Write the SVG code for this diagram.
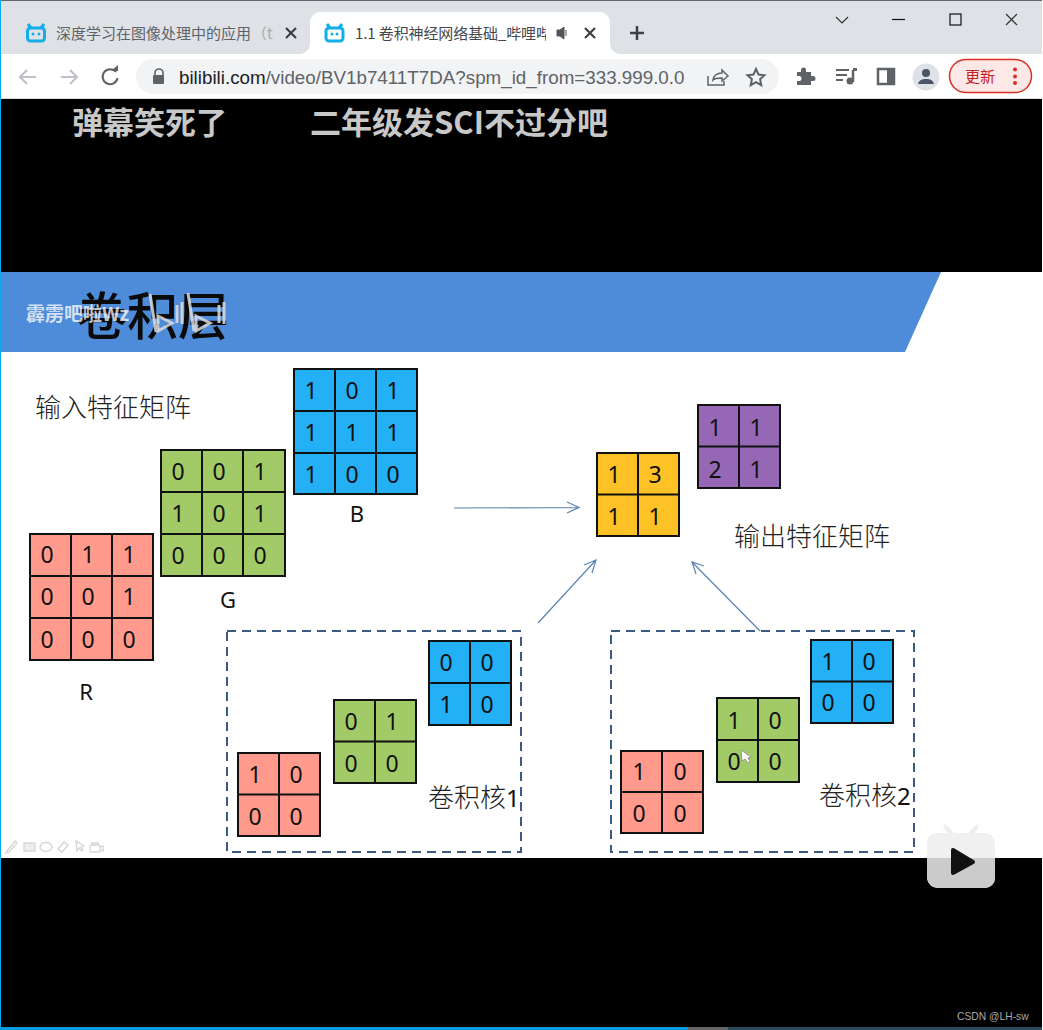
<svg xmlns="http://www.w3.org/2000/svg" width="1043" height="1030" viewBox="0 0 1043 1030">
<style>
.cjk{font-family:"Noto Sans CJK SC","Liberation Sans",sans-serif}
.ui{font-family:"Liberation Sans","Noto Sans CJK SC",sans-serif}
.d{font-family:"Noto Sans","DejaVu Sans",sans-serif;font-size:23px;fill:#111;text-anchor:middle}
.s{font-size:22px}
.lbl{font-family:"Noto Sans CJK SC",sans-serif;font-weight:300;font-size:26px;fill:#222}
.m{stroke:#111;stroke-width:2}
.r{fill:#ff9a8c}.g{fill:#a2cb68}.b{fill:#23b0f5}.y{fill:#fec226}.p{fill:#9567b5}
.ln{stroke:#111;stroke-width:2;fill:none}
.ar{stroke:#5b84b1;stroke-width:1.2;fill:none}
.dash{fill:none;stroke:#3d5a85;stroke-width:2;stroke-dasharray:9 6}
.tl{fill:none;stroke:#d4d4d4;stroke-width:1.300}
</style>
<rect width="1043" height="1030" fill="#000"/>
<g id="browser">
<rect x="0" y="0" width="1043" height="54" fill="#dee1e6"/>
<rect x="0" y="0" width="1043" height="1" fill="#666"/>
<path d="M300 54a10 10 0 0 0 10-10V22a10 10 0 0 1 10-10H600a10 10 0 0 1 10 10V44a10 10 0 0 0 10 10z" fill="#fff"/>
<rect x="0" y="54" width="1043" height="45" fill="#fff"/>
<rect x="0" y="98" width="1043" height="1" fill="#ddd"/>
<rect x="136" y="59" width="643" height="35" rx="17.500" fill="#f1f3f4"/>
<g fill="none" stroke="#12aee8" stroke-width="3">
<rect x="27.500" y="28" width="17" height="13" rx="3"/><path d="M31 28l-3-4M41 28l3-4"/>
<rect x="326" y="28" width="17" height="13" rx="3"/><path d="M330 28l-3-4M339 28l3-4"/>
</g>
<g fill="#12aee8"><circle cx="33" cy="34" r="1.500"/><circle cx="39" cy="34" r="1.500"/><circle cx="332" cy="34" r="1.500"/><circle cx="337" cy="34" r="1.500"/></g>
<text x="56" y="39" class="cjk" font-size="15" fill="#5f6368">深度学习在图像处理中的应用</text>
<text x="252" y="39" class="cjk" font-size="15" fill="#aaa">（t</text>
<text x="355" y="39" class="cjk" font-size="15" fill="#45494e" textLength="196">1.1 卷积神经网络基础_哔哩哔</text>
<rect x="546" y="20" width="14" height="26" fill="#fff"/>
<path d="M286 28l10 10M296 28l-10 10M585 28l10 10M595 28l-10 10" stroke="#3c4043" stroke-width="2.200" fill="none"/>
<path d="M557 30h3l4-3v12l-4-3h-3zM566 30v6" fill="#555" stroke="#555"/>
<path d="M637 26v14M630 33h14" stroke="#3c4043" stroke-width="2.500"/>
<path d="M836 17l6 6 6-6M1006 14l11 11M1017 14l-11 11" fill="none" stroke="#333" stroke-width="1.200"/>
<path d="M892 19.500h13" fill="none" stroke="#111" stroke-width="1.200"/>
<rect x="950" y="14" width="11" height="11" fill="none" stroke="#111" stroke-width="1.200"/>
<path d="M36 77H21M27 70l-7 7 7 7M61 77h15M70 70l7 7-7 7" fill="none" stroke="#bdc0c4" stroke-width="2"/>
<path d="M116 72a7.500 7.500 0 1 0 1.500 6" fill="none" stroke="#5f6368" stroke-width="2"/><path d="M111 71h7v-6z" fill="#5f6368"/>
<path d="M155 76v-3a4 4 0 0 1 8 0v3" fill="none" stroke="#5f6368" stroke-width="1.600"/><rect x="153" y="75" width="11" height="9" rx="1" fill="#5f6368"/>
<text x="179" y="84" class="ui" font-size="18.800" fill="#5f6368"><tspan fill="#202124">bilibili.com</tspan>/video/BV1b7411T7DA?spm_id_from=333.999.0.0</text>
<path d="M708 76v9h16v-4M713 80c1-5 5-7 9-7v-3l6 6-6 5v-3c-4 0-7 0-9 2z" fill="none" stroke="#5f6368" stroke-width="1.500"/>
<path d="M756 69l2.500 5.500 6 .7-4.400 4 1.200 6-5.300-3-5.300 3 1.200-6-4.400-4 6-.7z" fill="none" stroke="#5f6368" stroke-width="2"/>
<path d="M797 72h4v-2a2.500 2.500 0 0 1 5 0v2h5v4h2a2.500 2.500 0 0 1 0 5h-2v4h-14v-4h2a2.500 2.500 0 0 0 0-5h-2z" fill="#5f6368"/>
<path d="M836 70h13M836 75h11M836 80h7" stroke="#5f6368" stroke-width="2"/><path d="M853 70v12" stroke="#5f6368" stroke-width="2.500"/><circle cx="850" cy="81" r="3.500" fill="#5f6368"/><path d="M853 68h4v3h-4z" fill="#5f6368"/>
<rect x="878" y="69" width="16" height="15" fill="none" stroke="#5f6368" stroke-width="2.500"/><rect x="887" y="69" width="7" height="15" fill="#5f6368"/>
<circle cx="926" cy="77" r="13.500" fill="#dee1e6"/><circle cx="926" cy="73" r="4" fill="#4a5568"/><path d="M918 84c1-4 4-5 8-5s7 1 8 5z" fill="#4a5568"/>
<rect x="949.500" y="59.500" width="82" height="33" rx="16.500" fill="#fce8e6" stroke="#d93025" stroke-width="1.500"/>
<text x="965" y="82" class="cjk" font-size="15" fill="#c5221f">更新</text>
<g fill="#d93025"><circle cx="1015" cy="69.500" r="2"/><circle cx="1015" cy="76.500" r="2"/><circle cx="1015" cy="83" r="2"/></g>
</g>
<g id="danmaku" class="cjk" font-size="31" font-weight="700" fill="#c8c8c8">
<text x="72" y="134">弹幕笑死了</text>
<text x="310" y="134">二年级发SCI不过分吧</text>
</g>
<g id="slide">
<rect x="0" y="272" width="1043" height="586" fill="#fff"/>
<path d="M0 272H941L905 352H0z" fill="#4e8bd9"/>
<text x="76" y="335" class="cjk" font-size="51" font-weight="500" fill="#0a0a0a">卷积层</text>
<text x="26" y="321" class="cjk" font-size="19" font-weight="700" fill="#fff" fill-opacity=".75">霹雳吧啦Wz</text>
<g fill="none" stroke="#ddd" stroke-width="3" opacity=".85"><path d="M150 294l6 38M158 316l14 7-14 8z"/><path d="M188 293l6 38M196 316l14 7-14 8z"/><path d="M177 305v18M182 302v22M219 305v18M224 302v22"/></g>
</g>
<g id="connectors">
<path class="ar" d="M454 508L578 507.500M567 502l12 5.500-12 5.500"/>
<path class="ar" d="M538 623L596 560M584 565l12-5-4 13"/>
<path class="ar" d="M760 631L692 562M696 574l-4-12 12 4"/>
</g>
<g id="input-R">
<rect class="m r" x="30" y="534" width="123" height="126"/>
<path class="ln" d="M71 534v126M112 534v126M30 576h123M30 618h123"/>
<text class="d" x="47" y="563">0</text><text class="d" x="88" y="563">1</text><text class="d" x="129" y="563">1</text>
<text class="d" x="47" y="605">0</text><text class="d" x="88" y="605">0</text><text class="d" x="129" y="605">1</text>
<text class="d" x="47" y="648">0</text><text class="d" x="88" y="648">0</text><text class="d" x="129" y="648">0</text>
<text class="d s" x="86" y="700">R</text>
</g>
<g id="input-G">
<rect class="m g" x="161" y="450" width="124" height="126"/>
<path class="ln" d="M202 450v126M243 450v126M161 492h124M161 534h124"/>
<text class="d" x="178" y="480">0</text><text class="d" x="219" y="480">0</text><text class="d" x="260" y="480">1</text>
<text class="d" x="178" y="522">1</text><text class="d" x="219" y="522">0</text><text class="d" x="260" y="522">1</text>
<text class="d" x="178" y="564">0</text><text class="d" x="219" y="564">0</text><text class="d" x="260" y="564">0</text>
<text class="d s" x="228" y="608">G</text>
</g>
<g id="input-B">
<rect class="m b" x="294" y="369" width="123" height="125"/>
<path class="ln" d="M335 369v125M376 369v125M294 411h123M294 453h123"/>
<text class="d" x="311" y="399">1</text><text class="d" x="352" y="399">0</text><text class="d" x="393" y="399">1</text>
<text class="d" x="311" y="441">1</text><text class="d" x="352" y="441">1</text><text class="d" x="393" y="441">1</text>
<text class="d" x="311" y="483">1</text><text class="d" x="352" y="483">0</text><text class="d" x="393" y="483">0</text>
<text class="d s" x="357" y="522">B</text>
</g>
<text x="35" y="417" class="lbl">输入特征矩阵</text>
<g id="output-yellow">
<rect class="m y" x="597" y="453" width="82" height="83"/>
<path class="ln" d="M638 453v83M597 494.500h82"/>
<text class="d" x="614" y="483">1</text><text class="d" x="655" y="483">3</text><text class="d" x="614" y="525">1</text><text class="d" x="655" y="525">1</text>
</g>
<g id="output-purple">
<rect class="m p" x="698" y="405" width="82" height="83"/>
<path class="ln" d="M739 405v83M698 446.500h82"/>
<text class="d" x="715" y="436">1</text><text class="d" x="756" y="436">1</text><text class="d" x="715" y="478">2</text><text class="d" x="756" y="478">1</text>
</g>
<text x="734" y="546" class="lbl">输出特征矩阵</text>
<g id="kernel-1">
<rect class="dash" x="227" y="631" width="294" height="221"/>
<rect class="m r" x="238" y="753" width="82" height="83"/><path class="ln" d="M279 753v83M238 794.500h82"/>
<text class="d" x="255" y="783">1</text><text class="d" x="296" y="783">0</text><text class="d" x="255" y="825">0</text><text class="d" x="296" y="825">0</text>
<rect class="m g" x="334" y="700" width="82" height="83"/><path class="ln" d="M375 700v83M334 741.500h82"/>
<text class="d" x="351" y="730">0</text><text class="d" x="392" y="730">1</text><text class="d" x="351" y="772">0</text><text class="d" x="392" y="772">0</text>
<rect class="m b" x="429" y="641" width="82" height="84"/><path class="ln" d="M470 641v84M429 683h82"/>
<text class="d" x="446" y="671">0</text><text class="d" x="487" y="671">0</text><text class="d" x="446" y="713">1</text><text class="d" x="487" y="713">0</text>
<text x="428" y="807" class="lbl">卷积核<tspan font-family="Noto Sans,sans-serif" font-size="24" font-weight="400" fill="#111">1</tspan></text>
</g>
<g id="kernel-2">
<rect class="dash" x="611" y="631" width="303" height="221"/>
<rect class="m r" x="621" y="751" width="82" height="82"/><path class="ln" d="M662 751v82M621 792h82"/>
<text class="d" x="639" y="780">1</text><text class="d" x="680" y="780">0</text><text class="d" x="639" y="822">0</text><text class="d" x="680" y="822">0</text>
<rect class="m g" x="717" y="698" width="82" height="84"/><path class="ln" d="M758 698v84M717 740h82"/>
<text class="d" x="734" y="729">1</text><text class="d" x="775" y="729">0</text><text class="d" x="734" y="770">0</text><text class="d" x="775" y="770">0</text>
<rect class="m b" x="811" y="640" width="82" height="83"/><path class="ln" d="M852 640v83M811 681.500h82"/>
<text class="d" x="828" y="670">1</text><text class="d" x="869" y="670">0</text><text class="d" x="828" y="711">0</text><text class="d" x="869" y="711">0</text>
<text x="819" y="805" class="lbl">卷积核<tspan font-family="Noto Sans,sans-serif" font-size="24" font-weight="400" fill="#111">2</tspan></text>
</g>
<g id="overlay">
<path d="M741 750l1 11 3-2 3 4 2-1-2-4 3-1z" fill="#fff" stroke="#888" stroke-width=".8"/>
<g class="tl"><path d="M7 851l8-10 2 2-8 9-3 1z"/><rect x="24" y="843" width="11" height="8" fill="#eee"/><ellipse cx="46" cy="847" rx="6" ry="4.500"/><path d="M58 849l6-7 4 3-6 7z"/><path d="M76 841l1 10 2-3 3 3 1-1-2-3 3-1z"/><rect x="90" y="845" width="10" height="7" rx="1"/><path d="M100 847l3-1v5l-3-1M92 845v-2h6v2"/></g>
<path d="M945.500 827l6.500 7M976.500 827l-6.500 7" stroke="#eeeeee" stroke-width="4.500" stroke-linecap="round"/>
<path d="M938 833h47a10 10 0 0 1 10 10v35a10 10 0 0 1-10 10h-47a11 11 0 0 1-11-10v-35a10 10 0 0 1 11-10z" fill="#f0f0f0"/>
<path d="M927 858h68v20a10 10 0 0 1-10 10h-47a11 11 0 0 1-11-10z" fill="#cbcbcb"/>
<path d="M953 850l20 12-20 11z" fill="#111" stroke="#111" stroke-width="4" stroke-linejoin="round"/>
<text x="957" y="1020" class="ui" font-size="10.300" fill="#aaa">CSDN @LH-sw</text>
</g>
<g id="frame">
<rect x="0" y="0" width="1" height="1030" fill="#09a9ec"/>
<rect x="0" y="1027" width="688" height="3" fill="#0a9ee0"/>
<rect x="688" y="1027" width="40" height="3" fill="#666"/>
<rect x="728" y="1027" width="315" height="3" fill="#2b4a5e"/>
<rect x="1042" y="0" width="1" height="1030" fill="#fff"/>
</g>
</svg>
